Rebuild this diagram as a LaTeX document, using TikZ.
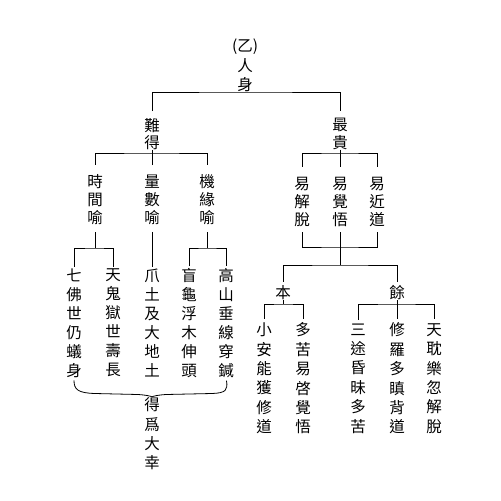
\documentclass[tikz,border=0pt]{standalone}
\usepackage{fontspec}
\newfontfamily\cjk{Noto Sans CJK TC}
\begin{document}
\begin{tikzpicture}[x=1pt,y=-1pt,line width=0.9pt,
  col/.style={font=\cjk\fontsize{15.5}{19}\selectfont,align=center,inner sep=0pt,outer sep=0pt},
  col18/.style={col,font=\cjk\fontsize{15.5}{18}\selectfont},
  col19h/.style={col,font=\cjk\fontsize{15.5}{19.4}\selectfont}]
\useasboundingbox[fill=white] (0,0) rectangle (501,501);
% nodes
\node[col19h] (root) at (245,65.5) {(乙)\\人\\身};
\node[col,font=\cjk\fontsize{15.5}{17.5}\selectfont] (nan) at (152,134) {難\\得};
\node[col,font=\cjk\fontsize{15.5}{17.5}\selectfont] (zui) at (340,134) {最\\貴};
\node[col18] (shijian) at (95,200) {時\\間\\喻};
\node[col18] (liangshu) at (152,200) {量\\數\\喻};
\node[col18] (jiyuan) at (207,200) {機\\緣\\喻};
\node[col18] (yijie) at (302,201.5) {易\\解\\脫};
\node[col18] (yijue) at (340,201.5) {易\\覺\\悟};
\node[col18] (yijin) at (377,201.5) {易\\近\\道};
\node[col] (ben) at (283,293) {本};
\node[col] (yu) at (397,293) {餘};
\node[col] (qifo) at (74,323) {七\\佛\\世\\仍\\蟻\\身};
\node[col] (tiangui) at (113,323) {天\\鬼\\獄\\世\\壽\\長};
\node[col] (zhaotu) at (152,323) {爪\\土\\及\\大\\地\\土};
\node[col] (manggui) at (189,323) {盲\\龜\\浮\\木\\伸\\頭};
\node[col] (gaoshan) at (226,323) {高\\山\\垂\\線\\穿\\鍼};
\node[col19h] (dawei) at (152,434) {得\\爲\\大\\幸};
\node[col19h] (xiaoan) at (264,378.5) {小\\安\\能\\獲\\修\\道};
\node[col19h] (duoku) at (303,378.5) {多\\苦\\易\\啓\\覺\\悟};
\node[col19h] (santu) at (358,378.5) {三\\途\\昏\\昧\\多\\苦};
\node[col19h] (xiuluo) at (397,378.5) {修\\羅\\多\\瞋\\背\\道};
\node[col19h] (tiandan) at (434,378.5) {天\\耽\\樂\\忽\\解\\脫};
% bar points
\coordinate (rootbar) at (245,92);
\coordinate (nanbar) at (152,153);
\coordinate (zuibar) at (340,153);
\coordinate (shibar) at (95,248);
\coordinate (jibar) at (207,248);
\coordinate (yibar) at (340,247);
\coordinate (splitbar) at (340,265);
\coordinate (benbar) at (283,304);
\coordinate (yubar) at (397,304);
% connectors
\draw[shorten <=7pt,shorten >=7pt] (nan.north) |- (rootbar) -| (zui.north);
\draw (nan.south) -- (nanbar);
\draw[shorten <=10pt,shorten >=10pt] (shijian.north) |- (nanbar) -| (jiyuan.north);
\draw[shorten <=10pt] (liangshu.north) -- (nanbar);
\draw (zui.south) -- (zuibar);
\draw[shorten <=10pt,shorten >=10pt] (yijie.north) |- (zuibar) -| (yijin.north);
\draw[shorten <=10pt] (yijue.north) -- (zuibar);
\draw[shorten <=7pt] (shijian.south) -- (shibar);
\draw[shorten <=2pt,shorten >=2pt] (qifo.north) |- (shibar) -| (tiangui.north);
\draw[shorten <=7pt,shorten >=2pt] (liangshu.south) -- (zhaotu.north);
\draw[shorten <=7pt] (jiyuan.south) -- (jibar);
\draw[shorten <=2pt,shorten >=2pt] (manggui.north) |- (jibar) -| (gaoshan.north);
\draw[shorten <=6pt,shorten >=6pt] (yijie.south) |- (yibar) -| (yijin.south);
\draw[shorten <=6pt] (yijue.south) -- (splitbar);
\draw[shorten <=4pt,shorten >=4pt] (ben.north) |- (splitbar) -| (yu.north);
\draw (ben.south) -- (benbar);
\draw[shorten <=4pt,shorten >=4pt] (xiaoan.north) |- (benbar) -| (duoku.north);
\draw (yu.south) -- (yubar);
\draw[shorten <=4pt,shorten >=4pt] (santu.north) |- (yubar) -| (tiandan.north);
\draw[shorten <=4pt] (xiuluo.north) -- (yubar);
% brace
\draw[line width=0.8pt,shorten <=3pt] (qifo.south) .. controls +(0,12) and (78,393) .. (95,393.5)
  -- (138,394.5) .. controls (146,395) and (150,396) .. ([yshift=1pt]dawei.north);
\draw[line width=0.8pt,shorten >=3pt] ([yshift=1pt]dawei.north) .. controls (154,396) and (158,395) .. (166,394.5)
  -- (212,393.5) .. controls (226,393) and (228,390) .. (gaoshan.south);
\end{tikzpicture}
\end{document}
